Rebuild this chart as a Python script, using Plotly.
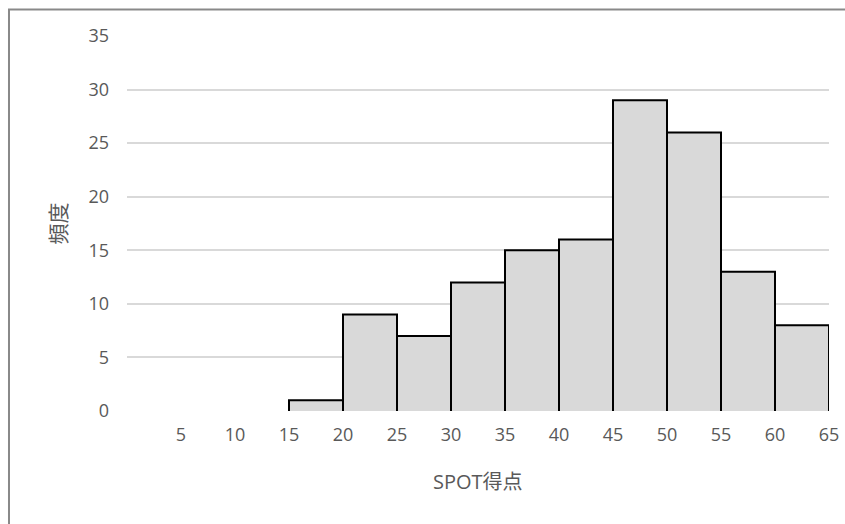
import plotly.graph_objects as go

# Histogram of SPOT scores (bin width 5)
bin_left = [0, 5, 10, 15, 20, 25, 30, 35, 40, 45, 50, 55, 60]
freq = [0, 0, 0, 1, 9, 7, 12, 15, 16, 29, 26, 13, 8]
bin_width = 5
x_ticks = [5, 10, 15, 20, 25, 30, 35, 40, 45, 50, 55, 60, 65]
y_ticks = [0, 5, 10, 15, 20, 25, 30, 35]

FONT = "Open Sans, Noto Sans CJK JP, sans-serif"
TEXT = "#595959"

fig = go.Figure()

# filled bars, no outline
fig.add_trace(go.Bar(
    x=[b + bin_width / 2 for b in bin_left],
    y=freq,
    width=[bin_width] * len(freq),
    marker=dict(color="#d9d9d9", line=dict(width=0)),
    hoverinfo="skip",
    showlegend=False,
))

# black outline on left, top and right of each non-empty bar
ox, oy = [], []
for b, v in zip(bin_left, freq):
    if v > 0:
        ox += [b, b, b + bin_width, b + bin_width, None]
        oy += [0, v, v, 0, None]
fig.add_trace(go.Scatter(
    x=ox, y=oy, mode="lines",
    line=dict(color="black", width=2),
    hoverinfo="skip", showlegend=False,
))

fig.update_layout(
    width=845, height=524,
    margin=dict(l=127, r=16, t=36, b=113, autoexpand=False),
    paper_bgcolor="white", plot_bgcolor="white",
    bargap=0,
    font=dict(family=FONT, size=18, color=TEXT),
    xaxis=dict(
        range=[0, 65], tickvals=x_ticks, ticktext=[str(t) for t in x_ticks],
        showgrid=False, zeroline=False, showline=False, ticks="",
        ticklabelstandoff=11, fixedrange=True, automargin=False,
    ),
    yaxis=dict(
        range=[0, 35], tickvals=y_ticks, ticktext=[str(t) for t in y_ticks],
        showgrid=True, gridcolor="#d9d9d9", gridwidth=1.5,
        zeroline=False, showline=False, ticks="",
        ticklabelstandoff=17, fixedrange=True, automargin=False,
    ),
    annotations=[
        dict(text="SPOT得点", xref="paper", yref="paper", x=0.5, y=-0.187,
             showarrow=False, font=dict(size=20, color=TEXT),
             xanchor="center", yanchor="middle"),
        dict(text="頻度", xref="paper", yref="paper", x=-0.0983, y=0.5,
             showarrow=False, textangle=-90, font=dict(size=21, color=TEXT),
             xanchor="center", yanchor="middle"),
    ],
    shapes=[
        dict(type="rect", xref="paper", yref="paper",
             x0=-0.1681, y0=-0.4, x1=1.2, y1=1.0707,
             line=dict(color="#898989", width=2), fillcolor="rgba(0,0,0,0)",
             layer="below"),
    ],
)

fig.write_html("out.html")
